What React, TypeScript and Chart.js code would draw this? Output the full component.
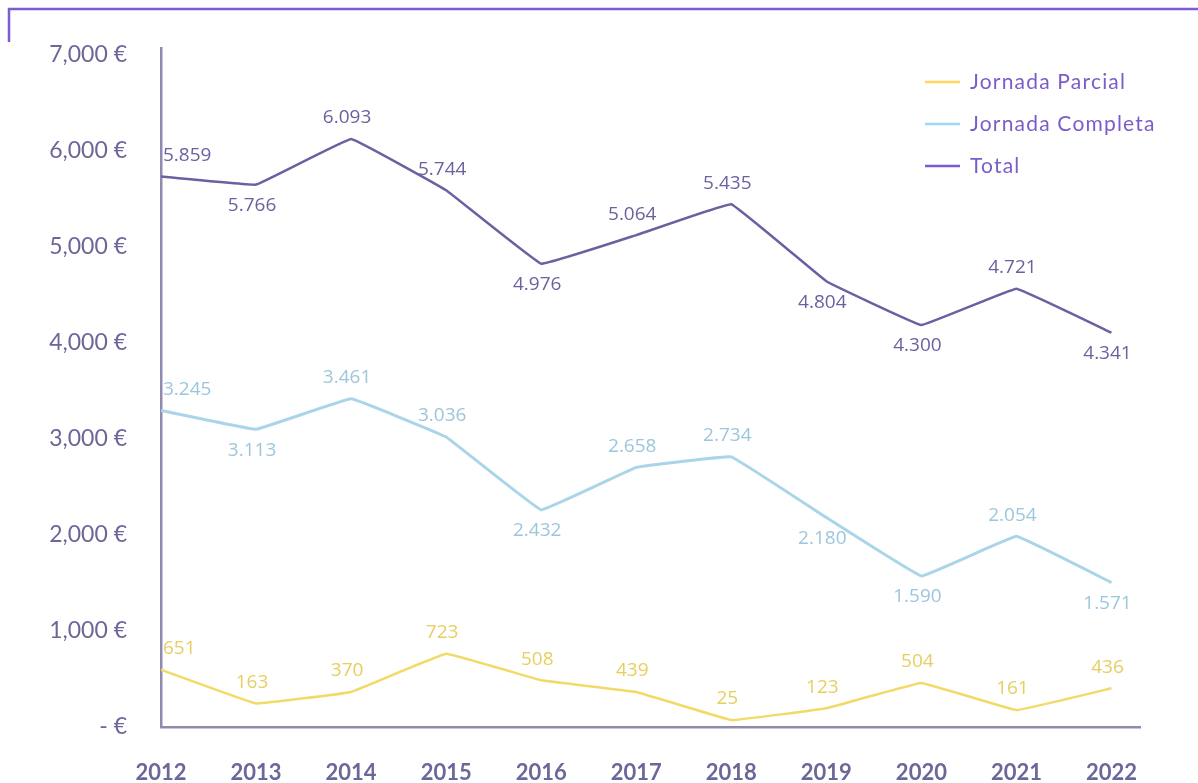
import React, { useEffect, useRef } from 'react';
import { Chart, registerables } from 'chart.js';

Chart.register(...registerables);

// ---- data ----
const years = [2012, 2013, 2014, 2015, 2016, 2017, 2018, 2019, 2020, 2021, 2022];
const seriesNames = ['Jornada Parcial', 'Jornada Completa', 'Total'];
// plotted line values (as drawn in the picture)
const parcialValues = [596, 245, 365, 762, 486, 365, 72, 196, 458, 176, 403];
const completaValues = [3295, 3099, 3416, 3019, 2260, 2702, 2812, 2180, 1572, 1985, 1503];
const totalValues = [5731, 5646, 6121, 5587, 4822, 5120, 5442, 4640, 4185, 4563, 4105];
// printed value labels
const parcialLabels = [651, 163, 370, 723, 508, 439, 25, 123, 504, 161, 436];
const completaLabels = [3245, 3113, 3461, 3036, 2432, 2658, 2734, 2180, 1590, 2054, 1571];
const totalLabels = [5859, 5766, 6093, 5744, 4976, 5064, 5435, 4804, 4300, 4721, 4341];
const yTicks = [0, 1000, 2000, 3000, 4000, 5000, 6000, 7000];

// label placement (a = above, b = below)
const parcialPlace = ['a', 'a', 'a', 'a', 'a', 'a', 'a', 'a', 'a', 'a', 'a'];
const completaPlace = ['a', 'b', 'a', 'a', 'b', 'a', 'a', 'b', 'b', 'a', 'b'];
const totalPlace = ['a', 'b', 'a', 'a', 'b', 'a', 'a', 'b', 'b', 'a', 'b'];

const AXIS = '#8f8bb0';
const TICK = '#6c6699';
const LEGEND_TXT = '#7b5cc9';

const fmtDot = (v: number) => {
  const s = String(v);
  return s.length > 3 ? s.slice(0, s.length - 3) + '.' + s.slice(s.length - 3) : s;
};
const fmtEuro = (v: number) => (v === 0 ? '- €' : v.toLocaleString('en-US') + ' €');

const framePlugin = {
  id: 'frame',
  beforeDraw(chart: any) {
    const ctx = chart.ctx;
    ctx.save();
    ctx.strokeStyle = '#7d5ad6';
    ctx.lineWidth = 2.5;
    ctx.beginPath();
    ctx.moveTo(9, 42);
    ctx.lineTo(9, 9);
    ctx.lineTo(1198, 9);
    ctx.stroke();
    ctx.restore();
  },
};

const valueLabelPlugin = {
  id: 'valueLabels',
  afterDatasetsDraw(chart: any) {
    const ctx = chart.ctx;
    ctx.save();
    ctx.font = '19px "Open Sans"';
    ctx.textBaseline = 'middle';
    chart.data.datasets.forEach((ds: any, i: number) => {
      const meta = chart.getDatasetMeta(i);
      ctx.fillStyle = ds.labelColor;
      meta.data.forEach((pt: any, j: number) => {
        const txt = fmtDot(ds.valueLabels[j]);
        const above = ds.labelPlace[j] === 'a';
        const y = above ? pt.y - 21 : pt.y + 21;
        if (j === 0) {
          ctx.textAlign = 'left';
          ctx.fillText(txt, pt.x + 2, y);
        } else {
          ctx.textAlign = 'center';
          ctx.fillText(txt, pt.x - 4, y);
        }
      });
    });
    ctx.restore();
  },
};

const legendPlugin = {
  id: 'customLegend',
  afterDraw(chart: any) {
    const ctx = chart.ctx;
    ctx.save();
    ctx.font = '21px Lato';
    (ctx as any).letterSpacing = '1.2px';
    ctx.textBaseline = 'middle';
    ctx.textAlign = 'left';
    chart.data.datasets.forEach((ds: any, i: number) => {
      const y = 82 + i * 42;
      ctx.strokeStyle = ds.legendColor;
      ctx.lineWidth = 2.5;
      ctx.beginPath();
      ctx.moveTo(925, y);
      ctx.lineTo(960, y);
      ctx.stroke();
      ctx.fillStyle = LEGEND_TXT;
      ctx.fillText(ds.label, 970, y);
    });
    ctx.restore();
  },
};

export default function App() {
  const ref = useRef<HTMLCanvasElement | null>(null);

  useEffect(() => {
    if (!ref.current) return;
    const toPts = (vals: number[]) => years.map((yr, i) => ({ x: yr, y: vals[i] }));
    const chart = new Chart(ref.current, {
      type: 'line',
      data: {
        datasets: [
          {
            label: seriesNames[0],
            data: toPts(parcialValues),
            borderColor: '#f1da66',
            borderWidth: 2.5,
            pointRadius: 0,
            tension: 0.05,
            borderJoinStyle: 'round',
            valueLabels: parcialLabels,
            labelPlace: parcialPlace,
            labelColor: '#e6cf60',
            legendColor: '#fdd85d',
          } as any,
          {
            label: seriesNames[1],
            data: toPts(completaValues),
            borderColor: '#aad5e8',
            borderWidth: 3,
            pointRadius: 0,
            tension: 0.05,
            borderJoinStyle: 'round',
            valueLabels: completaLabels,
            labelPlace: completaPlace,
            labelColor: '#9cc6dc',
            legendColor: '#a3d8f2',
          } as any,
          {
            label: seriesNames[2],
            data: toPts(totalValues),
            borderColor: '#6a62a0',
            borderWidth: 2.5,
            pointRadius: 0,
            tension: 0.05,
            borderJoinStyle: 'round',
            valueLabels: totalLabels,
            labelPlace: totalPlace,
            labelColor: '#6a62a0',
            legendColor: '#7a5bd0',
          } as any,
        ],
      },
      options: {
        responsive: false,
        animation: false,
        devicePixelRatio: 1,
        layout: { padding: { top: 43, right: 58, left: 0, bottom: 0 } },
        plugins: {
          legend: { display: false },
          tooltip: { enabled: false },
        },
        scales: {
          x: {
            type: 'linear',
            min: 2012,
            max: 2022.3,
            grid: { display: false, drawTicks: false },
            border: { display: true, color: AXIS, width: 2.5 },
            afterBuildTicks: (s: any) => {
              s.ticks = years.map((v) => ({ value: v }));
            },
            afterFit: (s: any) => {
              s.height = 56;
            },
            ticks: {
              padding: 33,
              color: TICK,
              font: { family: 'Lato', size: 22, weight: 'bold' },
              callback: (v: any) => String(v),
              maxRotation: 0,
              autoSkip: false,
            },
          },
          y: {
            type: 'linear',
            min: 0,
            max: 7070,
            grid: { display: false, drawTicks: false },
            border: { display: true, color: AXIS, width: 2.5 },
            afterBuildTicks: (s: any) => {
              s.ticks = yTicks.map((v) => ({ value: v }));
            },
            afterFit: (s: any) => {
              s.width = 161;
            },
            ticks: {
              padding: 34,
              color: TICK,
              font: { family: 'Lato', size: 23 },
              callback: (v: any) => fmtEuro(Number(v)),
            },
          },
        },
      } as any,
      plugins: [framePlugin, valueLabelPlugin, legendPlugin],
    });
    return () => chart.destroy();
  }, []);

  return (
    <div style={{ position: 'fixed', left: 0, top: 0, width: 1198, height: 783, background: '#ffffff' }}>
      <canvas ref={ref} width={1198} height={783} style={{ width: 1198, height: 783, display: 'block' }} />
    </div>
  );
}
